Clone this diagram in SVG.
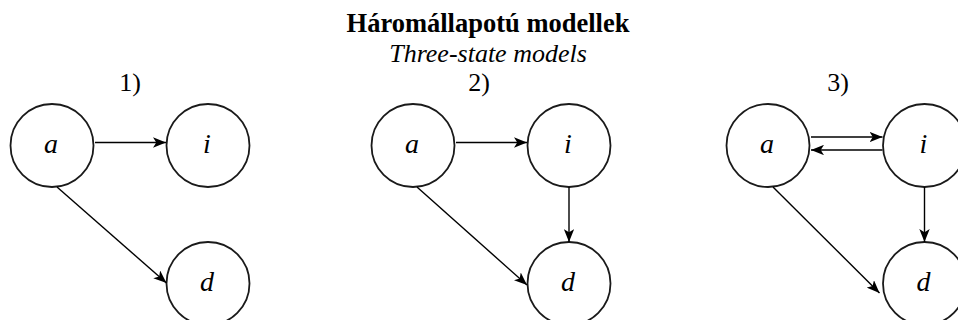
<svg xmlns="http://www.w3.org/2000/svg" width="958" height="320" viewBox="0 0 958 320">
  <style>
    .node circle { fill: #ffffff; stroke: #1a1a1a; stroke-width: 1.8; }
    .lbl { font-family: "Liberation Serif", "Times New Roman", serif; font-style: italic; font-size: 28px; fill: #000; text-anchor: middle; }
    .num { font-family: "Liberation Serif", "Times New Roman", serif; font-size: 26px; fill: #000; text-anchor: middle; }
    .title { font-family: "Liberation Serif", "Times New Roman", serif; font-weight: bold; font-size: 26.5px; fill: #000; text-anchor: middle; }
    .sub { font-family: "Liberation Serif", "Times New Roman", serif; font-style: italic; font-size: 26px; fill: #000; text-anchor: middle; }
    .edge { fill: none; stroke: #000; stroke-width: 1.4; marker-end: url(#arr); }
  </style>
  <defs>
    <marker id="arr" viewBox="0 0 10 8" refX="10" refY="4" markerWidth="13" markerHeight="10.4" markerUnits="userSpaceOnUse" orient="auto">
      <path d="M0,0 L10,4 L0,8 L2.5,4 Z" fill="#000"/>
    </marker>
  </defs>
  <rect width="958" height="320" fill="#ffffff"/>

  <g id="title">
    <text class="title" x="488" y="32">Háromállapotú modellek</text>
    <text class="sub" x="488" y="62">Three-state models</text>
  </g>

  <g id="label-1"><text class="num" x="130" y="91">1)</text></g>
  <g id="label-2"><text class="num" x="479" y="91">2)</text></g>
  <g id="label-3"><text class="num" x="838" y="91">3)</text></g>

  <!-- Panel 1 -->
  <g id="p1-a" class="node"><circle cx="52" cy="145.5" r="41.5"/><text class="lbl" x="51" y="153">a</text></g>
  <g id="p1-i" class="node"><circle cx="208" cy="145.5" r="41.5"/><text class="lbl" x="207" y="153">i</text></g>
  <g id="p1-d" class="node"><circle cx="208" cy="283.5" r="41.5"/><text class="lbl" x="207" y="291">d</text></g>

  <!-- Panel 2 -->
  <g id="p2-a" class="node"><circle cx="413" cy="145.5" r="41.5"/><text class="lbl" x="412" y="153">a</text></g>
  <g id="p2-i" class="node"><circle cx="569" cy="145.5" r="41.5"/><text class="lbl" x="568" y="153">i</text></g>
  <g id="p2-d" class="node"><circle cx="569" cy="283.5" r="41.5"/><text class="lbl" x="568" y="291">d</text></g>

  <!-- Panel 3 -->
  <g id="p3-a" class="node"><circle cx="768" cy="145.5" r="41.5"/><text class="lbl" x="767" y="153">a</text></g>
  <g id="p3-i" class="node"><circle cx="924.5" cy="145.5" r="41.5"/><text class="lbl" x="923.5" y="153">i</text></g>
  <g id="p3-d" class="node"><circle cx="924.5" cy="283.5" r="41.5"/><text class="lbl" x="923.5" y="291">d</text></g>

  <g id="connectors">
    <!-- Panel 1 -->
    <line class="edge" x1="95" y1="142.5" x2="166" y2="142.5"/>
    <line class="edge" x1="57" y1="187" x2="166.5" y2="283"/>
    <!-- Panel 2 -->
    <line class="edge" x1="456" y1="142.5" x2="527" y2="142.5"/>
    <line class="edge" x1="417" y1="187" x2="527" y2="285"/>
    <line class="edge" x1="569" y1="187" x2="569" y2="242"/>
    <!-- Panel 3 -->
    <line class="edge" x1="811" y1="137" x2="882.5" y2="137"/>
    <line class="edge" x1="882.5" y1="150" x2="811" y2="150"/>
    <line class="edge" x1="773" y1="187" x2="879.5" y2="293"/>
    <line class="edge" x1="924.5" y1="187" x2="924.5" y2="242"/>
  </g>
</svg>
